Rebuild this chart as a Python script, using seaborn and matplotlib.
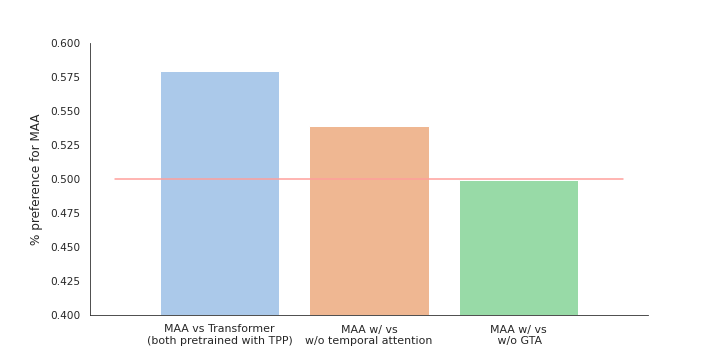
import matplotlib
matplotlib.use("Agg")
import matplotlib.pyplot as plt
import seaborn as sns
import pandas as pd

# comparisons and preference share for MAA
comparisons = [
    "MAA vs Transformer\n(both pretrained with TPP)",
    "MAA w/ vs\nw/o temporal attention",
    "MAA w/ vs\n w/o GTA",
]
preference = [0.5794, 0.539, 0.4997]
chance_level = 0.5

sns.set_style("white")
pastel = sns.color_palette("pastel")

df = pd.DataFrame({"comparison": comparisons, "preference": preference})

fig, ax = plt.subplots(figsize=(10, 5), dpi=72)
sns.barplot(data=df, x="comparison", y="preference", hue="comparison",
            palette=pastel[:3], legend=False, ax=ax)
ax.plot([-0.7, 2.7], [chance_level, chance_level], color=pastel[3], linewidth=1.5)
ax.set_ylim(0.4, 0.6)
ax.set_xlim(-0.87, 2.87)
ax.set_xlabel("")
ax.set_ylabel("% preference for MAA", fontsize=12, labelpad=7)
ax.tick_params(axis="y", labelsize=10.5, pad=6)
ax.tick_params(axis="x", labelsize=11, pad=6)
sns.despine(ax=ax)
fig.subplots_adjust(left=0.125, right=0.9, top=0.88, bottom=0.125)
fig.savefig("out.png", dpi=72)
